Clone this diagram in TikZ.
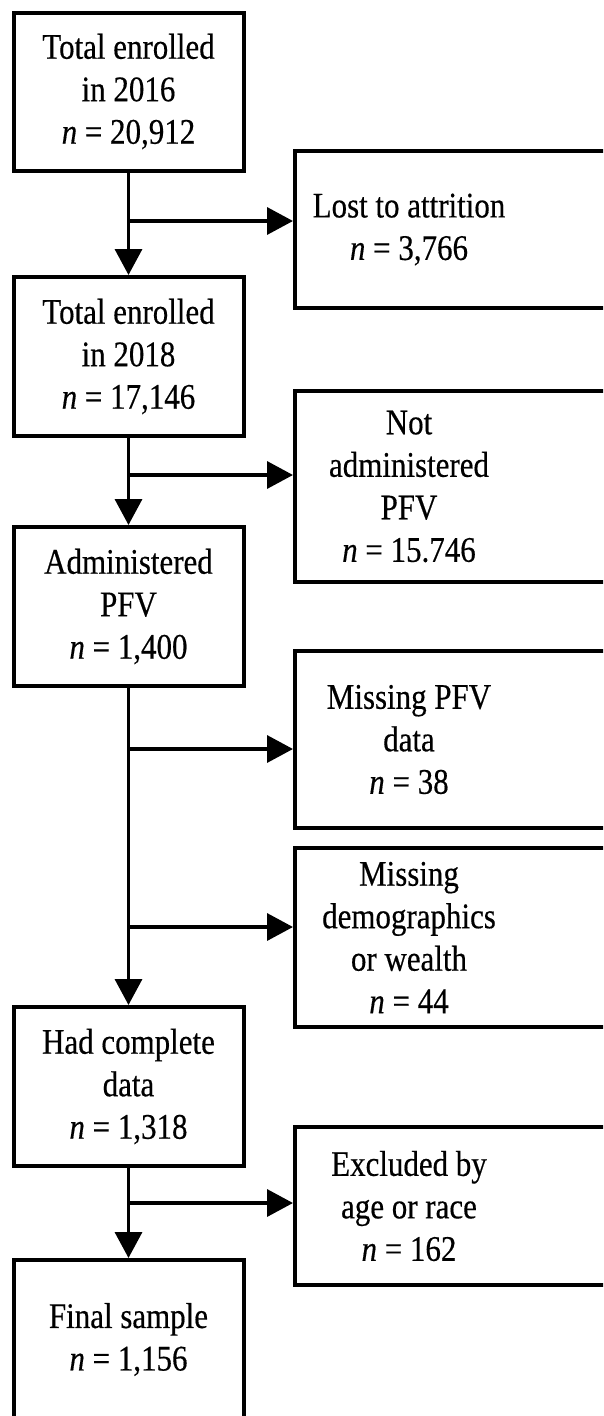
\documentclass[tikz,border=0pt]{standalone}
\usepackage{fontspec}
\setmainfont{Liberation Serif}[FakeStretch=0.86,FakeBold=0.4]
\usetikzlibrary{arrows.meta}
\begin{document}
\begin{tikzpicture}[x=1pt,y=1pt,
  box/.style={draw,line width=4pt,inner sep=0pt},
  lbox/.style={box,minimum width=230pt,align=center,font=\fontsize{36}{42.5}\selectfont},
  rbox/.style={box,minimum width=345pt},
  txt/.style={align=center,font=\fontsize{36}{42.5}\selectfont,inner sep=0pt},
  flow/.style={line width=3.5pt,-{Triangle[length=26pt,width=27pt]}}]
\useasboundingbox (0,0) rectangle (603,-1416);
\clip (0,0) rectangle (603,-1416);
% main column
\node[lbox,minimum height=158pt] (b1) at (128.5,-91.5) {Total enrolled\\in 2016\\\textit{n} = 20,912};
\node[lbox,minimum height=159pt] (b2) at (128.5,-356.5) {Total enrolled\\in 2018\\\textit{n} = 17,146};
\node[lbox,minimum height=159pt] (b3) at (128.5,-606.5) {Administered\\PFV\\\textit{n} = 1,400};
\node[lbox,minimum height=159pt] (b4) at (128.5,-1086.5) {Had complete\\data\\\textit{n} = 1,318};
\node[lbox,minimum height=159pt] (b5) at (128.5,-1339.5) {Final sample\\\textit{n} = 1,156};
% side boxes
\node[rbox,minimum height=157pt] (r1) at (467.5,-229.5) {};
\node[txt] (t1) at (409,-229.5) {Lost to attrition\\\textit{n} = 3,766};
\node[rbox,minimum height=191pt] (r2) at (467.5,-486.5) {};
\node[txt] (t2) at (409,-486.5) {Not\\administered\\PFV\\\textit{n} = 15.746};
\node[rbox,minimum height=177pt] (r3) at (467.5,-739.5) {};
\node[txt] (t3) at (409,-739.5) {Missing PFV\\data\\\textit{n} = 38};
\node[rbox,minimum height=179pt] (r4) at (467.5,-937.5) {};
\node[txt] (t4) at (409,-937.5) {Missing\\demographics\\or wealth\\\textit{n} = 44};
\node[rbox,minimum height=158pt] (r5) at (467.5,-1206) {};
\node[txt] (t5) at (409,-1206) {Excluded by\\age or race\\\textit{n} = 162};
% junctions
\coordinate (j1) at (128.5,-221);
\coordinate (j2) at (128.5,-475);
\coordinate (j3) at (128.5,-749);
\coordinate (j4) at (128.5,-927);
\coordinate (j5) at (128.5,-1203);
% vertical connectors
\draw[flow] (b1) -- (b2);
\draw[flow] (b2) -- (b3);
\draw[flow] (b3) -- (b4);
\draw[flow] (b4) -- (b5);
% branches
\draw[flow] (j1) -- (j1 -| r1.west);
\draw[flow] (j2) -- (j2 -| r2.west);
\draw[flow] (j3) -- (j3 -| r3.west);
\draw[flow] (j4) -- (j4 -| r4.west);
\draw[flow] (j5) -- (j5 -| r5.west);
\end{tikzpicture}
\end{document}
